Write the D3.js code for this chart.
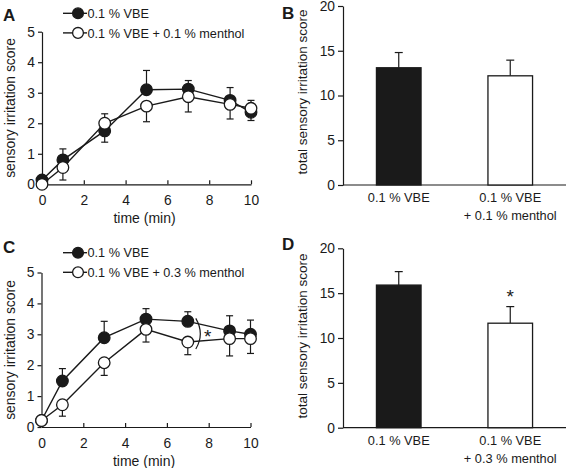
<!DOCTYPE html>
<html>
<head>
<meta charset="utf-8">
<script src="https://cdn.jsdelivr.net/npm/d3@7"></script>
<style>
  html, body { margin: 0; padding: 0; background: #fff; }
  svg { display: block; }
  svg text { font-family: "Liberation Sans", Arimo, sans-serif; fill: #1a1a1a; }
</style>
</head>
<body>
<svg id="chart" width="567" height="468"></svg>
<script>
// ---------------- DATA ----------------
const timePoints = [0, 1, 3, 5, 7, 9, 10];
const xTicks = [0, 2, 4, 6, 8, 10];
const yTicksLine = [0, 1, 2, 3, 4, 5];
const yTicksBar = [0, 5, 10, 15, 20];

// Panel A
const vbeA = [0.14, 0.80, 1.75, 3.10, 3.12, 2.75, 2.36];
const vbeAErrEnd = [null, 1.16, 1.38, 3.73, 3.40, 3.17, 2.09];
const mentholA = [0.00, 0.55, 2.00, 2.56, 2.87, 2.62, 2.49];
const mentholAErrEnd = [null, 0.14, 2.31, 2.05, 2.37, 2.14, 2.75];
const legendA = ["0.1 % VBE", "0.1 % VBE + 0.1 % menthol"];

// Panel C
const vbeC = [0.21, 1.49, 2.89, 3.49, 3.42, 3.11, 3.00];
const vbeCErrEnd = [null, 1.89, 3.42, 3.83, 3.73, 3.60, 3.46];
const mentholC = [0.21, 0.72, 2.08, 3.16, 2.75, 2.86, 2.86];
const mentholCErrEnd = [null, 0.35, 1.67, 2.75, 2.34, 2.30, 2.38];
const legendC = ["0.1 % VBE", "0.1 % VBE + 0.3 % menthol"];

// Panel B
const barCatsB = [["0.1 % VBE"], ["0.1 % VBE", "+ 0.1 % menthol"]];
const barValsB = [13.1, 12.2];
const barErrEndB = [14.8, 13.95];

// Panel D
const barCatsD = [["0.1 % VBE"], ["0.1 % VBE", "+ 0.3 % menthol"]];
const barValsD = [15.9, 11.65];
const barErrEndD = [17.4, 13.5];

// ---------------- DRAW ----------------
const svg = d3.select("#chart");
const INK = "#1a1a1a";
const FONT = "'Liberation Sans', Arimo, sans-serif";

function txt(sel, size) {
  return sel.style("font-size", size + "px").style("font-family", FONT)
    .style("font-weight", "normal").attr("fill", INK);
}

function panelLabel(t, x, y) {
  svg.append("text").attr("x", x).attr("y", y)
    .style("font-size", "17px").style("font-weight", "bold").style("font-family", FONT).text(t);
}

function linePanel(opt) {
  const g = svg.append("g");
  const x = d3.scaleLinear().domain([0, 10]).range([opt.x0, opt.x1]);
  const y = d3.scaleLinear().domain([0, 5]).range([opt.y0, opt.y1]);

  const ya = g.append("g").attr("transform", `translate(${opt.x0},0)`)
    .call(d3.axisLeft(y).tickValues(yTicksLine).tickFormat(d3.format("d"))
      .tickSize(4).tickSizeOuter(0).tickPadding(3));
  const xa = g.append("g").attr("transform", `translate(0,${opt.y0})`)
    .call(d3.axisBottom(x).tickValues(xTicks).tickFormat(d3.format("d"))
      .tickSize(-4).tickSizeOuter(0).tickPadding(11));
  [ya, xa].forEach(a => {
    a.selectAll("path").attr("stroke", INK).attr("stroke-width", 1.2);
    a.selectAll("line").attr("stroke", INK).attr("stroke-width", 1.2);
    txt(a.selectAll("text"), 13.8);
  });
  xa.select(".tick line").attr("display", "none");

  txt(g.append("text").attr("x", (opt.x0 + opt.x1) / 2 - 2).attr("y", opt.y0 + 39)
    .attr("text-anchor", "middle"), 14).text("time (min)");
  txt(g.append("text")
    .attr("transform", `translate(${opt.ylabX},${opt.ylabY}) rotate(-90)`)
    .attr("text-anchor", "middle"), 13.9).text("sensory irritation score");

  const series = [
    { vals: opt.vbe, err: opt.vbeErr, fill: INK },
    { vals: opt.men, err: opt.menErr, fill: "#fff" }
  ];
  series.forEach(s => {
    s.vals.forEach((v, i) => {
      const e = s.err[i];
      if (e == null) return;
      const cx = x(timePoints[i]);
      g.append("line").attr("x1", cx).attr("x2", cx).attr("y1", y(v)).attr("y2", y(e))
        .attr("stroke", INK).attr("stroke-width", 1.2);
      g.append("line").attr("x1", cx - 3.5).attr("x2", cx + 3.5).attr("y1", y(e)).attr("y2", y(e))
        .attr("stroke", INK).attr("stroke-width", 1.2);
    });
  });
  const lineGen = d3.line().x((d, i) => x(timePoints[i])).y(d => y(d));
  series.forEach(s => {
    g.append("path").datum(s.vals).attr("d", lineGen)
      .attr("fill", "none").attr("stroke", INK).attr("stroke-width", 1.4);
  });
  series.forEach(s => {
    g.selectAll(null).data(s.vals).enter().append("circle")
      .attr("cx", (d, i) => x(timePoints[i])).attr("cy", d => y(d)).attr("r", 5.8)
      .attr("fill", s.fill).attr("stroke", INK).attr("stroke-width", 1.3);
  });

  opt.legend.forEach((lab, i) => {
    const ly = opt.legY + i * 19.6;
    g.append("line").attr("x1", 63).attr("x2", 87).attr("y1", ly).attr("y2", ly)
      .attr("stroke", INK).attr("stroke-width", 1.4);
    g.append("circle").attr("cx", 78).attr("cy", ly).attr("r", 5.4)
      .attr("fill", series[i].fill).attr("stroke", INK).attr("stroke-width", 1.3);
    txt(g.append("text").attr("x", 87.5).attr("y", ly + 4.7), 12.7).text(lab);
  });
  return { g, x, y };
}

function barPanel(opt) {
  const g = svg.append("g");
  const x = d3.scaleBand().domain(d3.range(opt.vals.length)).range([343, 566])
    .paddingInner(0.6).paddingOuter(0.3);
  const y = d3.scaleLinear().domain([0, 20]).range([opt.y0, opt.y1]);

  const ya = g.append("g").attr("transform", "translate(343,0)")
    .call(d3.axisLeft(y).tickValues(yTicksBar).tickFormat(d3.format("d"))
      .tickSize(5).tickSizeOuter(0).tickPadding(3));
  ya.selectAll("path,line").attr("stroke", INK).attr("stroke-width", 1.2);
  txt(ya.selectAll("text"), 13.8);
  g.append("line").attr("x1", 343).attr("x2", 566).attr("y1", opt.y0).attr("y2", opt.y0)
    .attr("stroke", INK).attr("stroke-width", 1.2);

  opt.vals.forEach((v, i) => {
    const cx = x(i) + x.bandwidth() / 2;
    g.append("line").attr("x1", cx).attr("x2", cx).attr("y1", y(v)).attr("y2", y(opt.err[i]))
      .attr("stroke", INK).attr("stroke-width", 1.2);
    g.append("line").attr("x1", cx - 4).attr("x2", cx + 4).attr("y1", y(opt.err[i])).attr("y2", y(opt.err[i]))
      .attr("stroke", INK).attr("stroke-width", 1.2);
  });
  g.selectAll(null).data(opt.vals).enter().append("rect")
    .attr("x", (d, i) => x(i)).attr("width", x.bandwidth())
    .attr("y", d => y(d)).attr("height", d => opt.y0 - y(d))
    .attr("fill", (d, i) => i === 0 ? INK : "#fff")
    .attr("stroke", INK).attr("stroke-width", 1.3);

  opt.cats.forEach((lines, i) => {
    const cx = x(i) + x.bandwidth() / 2;
    lines.forEach((l, j) => {
      txt(g.append("text").attr("x", cx).attr("y", opt.y0 + 17 + j * 18)
        .attr("text-anchor", "middle"), 12.8).text(l);
    });
  });
  txt(g.append("text")
    .attr("transform", `translate(307,${opt.ylabY}) rotate(-90)`)
    .attr("text-anchor", "middle"), 13.5).text("total sensory irritation score");
  return { g, x, y };
}

// Panel A
linePanel({ x0: 42, x1: 251, y0: 184.3, y1: 31.7, vbe: vbeA, vbeErr: vbeAErrEnd,
  men: mentholA, menErr: mentholAErrEnd, legend: legendA, legY: 13.3, ylabX: 15, ylabY: 108 });
panelLabel("A", 3, 21);

// Panel C
const pC = linePanel({ x0: 41.5, x1: 250.5, y0: 427, y1: 272.5, vbe: vbeC, vbeErr: vbeCErrEnd,
  men: mentholC, menErr: mentholCErrEnd, legend: legendC, legY: 252.7, ylabX: 15, ylabY: 350 });
panelLabel("C", 3, 253);
{
  const bx = pC.x(7) + 8;
  const yTop = pC.y(vbeC[4]) - 3, yBot = pC.y(mentholC[4]) + 7;
  pC.g.append("path")
    .attr("d", `M${bx},${yTop} Q${bx + 9},${(yTop + yBot) / 2} ${bx},${yBot}`)
    .attr("fill", "none").attr("stroke", INK).attr("stroke-width", 1.2);
  pC.g.append("text").attr("x", pC.x(7.95)).attr("y", 343).attr("text-anchor", "middle")
    .style("font-size", "19px").style("font-family", FONT).attr("fill", INK).text("*");
}

// Panel B
barPanel({ vals: barValsB, err: barErrEndB, cats: barCatsB, y0: 185, y1: 6, ylabY: 92 });
panelLabel("B", 282, 19);

// Panel D
const pD = barPanel({ vals: barValsD, err: barErrEndD, cats: barCatsD, y0: 427.7, y1: 248.3, ylabY: 336 });
panelLabel("D", 282, 250);
pD.g.append("text").attr("x", pD.x(1) + pD.x.bandwidth() / 2).attr("y", 303)
  .attr("text-anchor", "middle").style("font-size", "19px").style("font-family", FONT)
  .attr("fill", INK).text("*");
</script>
</body>
</html>
